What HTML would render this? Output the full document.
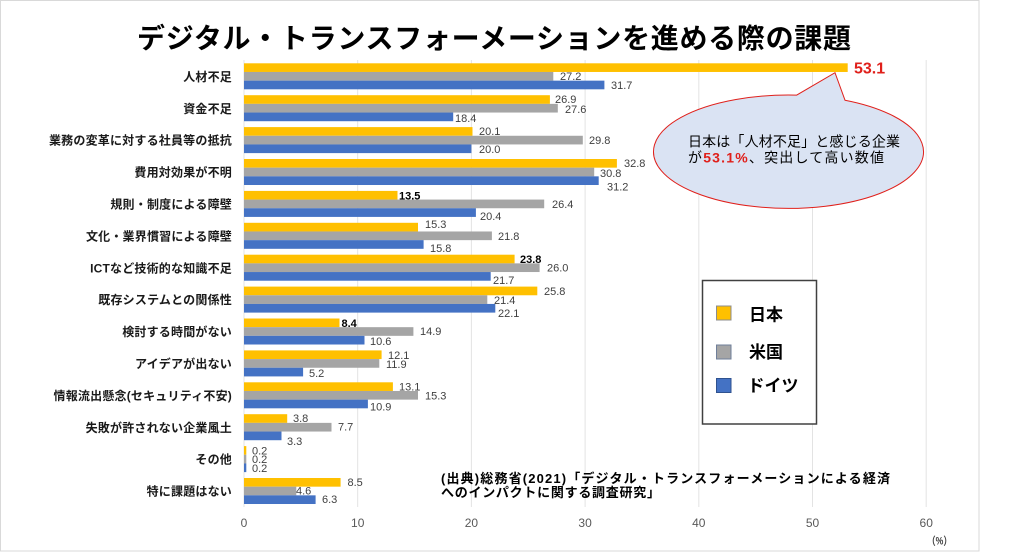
<!DOCTYPE html>
<html><head><meta charset="utf-8">
<style>
html,body{margin:0;padding:0;background:#fff;}
svg{display:block;}
.cat{font-family:"Liberation Sans","Noto Sans CJK JP",sans-serif;font-size:12px;font-weight:bold;fill:#1a1a1a;text-anchor:end;letter-spacing:0.2px;}
.lbl{font-family:"Liberation Sans",sans-serif;font-size:11px;fill:#404040;}
.lb{font-family:"Liberation Sans",sans-serif;font-size:11px;fill:#000;font-weight:bold;}
.tick{font-family:"Liberation Sans",sans-serif;font-size:12px;fill:#595959;text-anchor:middle;}
.jp{font-family:"Liberation Sans","Noto Sans CJK JP",sans-serif;}
</style></head>
<body>
<svg width="1024" height="554" viewBox="0 0 1024 554" xmlns="http://www.w3.org/2000/svg">
<rect x="0" y="0" width="1024" height="554" fill="#fff"/>
<rect x="0.5" y="0.5" width="978.5" height="550.5" fill="#fff" stroke="#d9d9d9" stroke-width="1"/>

<!-- title -->
<text class="jp" x="137" y="48" font-size="28" font-weight="bold" fill="#000" textLength="714" lengthAdjust="spacing">デジタル・トランスフォーメーションを進める際の課題</text>

<!-- gridlines -->
<g stroke="#e3e3e3" stroke-width="1">
<line x1="244" y1="60" x2="244" y2="507"/>
<line x1="357.7" y1="60" x2="357.7" y2="507"/>
<line x1="471.4" y1="60" x2="471.4" y2="507"/>
<line x1="585.1" y1="60" x2="585.1" y2="507"/>
<line x1="698.8" y1="60" x2="698.8" y2="507"/>
<line x1="812.5" y1="60" x2="812.5" y2="507"/>
<line x1="926.2" y1="60" x2="926.2" y2="507"/>
</g>

<text class="lbl" x="560" y="79.9">27.2</text>

<!-- bars -->
<g fill="#FFC000">
<rect x="244" y="63.3" width="603.7" height="8.67"/>
<rect x="244" y="95.2" width="305.9" height="8.67"/>
<rect x="244" y="127.1" width="228.5" height="8.67"/>
<rect x="244" y="159.0" width="372.9" height="8.67"/>
<rect x="244" y="190.9" width="153.5" height="8.67"/>
<rect x="244" y="222.8" width="174.0" height="8.67"/>
<rect x="244" y="254.7" width="270.6" height="8.67"/>
<rect x="244" y="286.6" width="293.3" height="8.67"/>
<rect x="244" y="318.5" width="95.5" height="8.67"/>
<rect x="244" y="350.4" width="137.6" height="8.67"/>
<rect x="244" y="382.3" width="148.9" height="8.67"/>
<rect x="244" y="414.2" width="43.2" height="8.67"/>
<rect x="244" y="446.1" width="2.3" height="8.67"/>
<rect x="244" y="478.0" width="96.6" height="8.67"/>
</g>
<g fill="#A5A5A5">
<rect x="244" y="71.97" width="309.3" height="8.67"/>
<rect x="244" y="103.87" width="313.8" height="8.67"/>
<rect x="244" y="135.77" width="338.8" height="8.67"/>
<rect x="244" y="167.67" width="350.2" height="8.67"/>
<rect x="244" y="199.57" width="300.2" height="8.67"/>
<rect x="244" y="231.47" width="247.9" height="8.67"/>
<rect x="244" y="263.37" width="295.6" height="8.67"/>
<rect x="244" y="295.27" width="243.3" height="8.67"/>
<rect x="244" y="327.17" width="169.4" height="8.67"/>
<rect x="244" y="359.07" width="135.3" height="8.67"/>
<rect x="244" y="390.97" width="174.0" height="8.67"/>
<rect x="244" y="422.87" width="87.5" height="8.67"/>
<rect x="244" y="454.77" width="2.3" height="8.67"/>
<rect x="244" y="486.67" width="52.3" height="8.67"/>
</g>
<g fill="#4472C4">
<rect x="244" y="80.64" width="360.4" height="8.67"/>
<rect x="244" y="112.54" width="209.2" height="8.67"/>
<rect x="244" y="144.44" width="227.4" height="8.67"/>
<rect x="244" y="176.34" width="354.7" height="8.67"/>
<rect x="244" y="208.24" width="231.9" height="8.67"/>
<rect x="244" y="240.14" width="179.6" height="8.67"/>
<rect x="244" y="272.04" width="246.7" height="8.67"/>
<rect x="244" y="303.94" width="251.3" height="8.67"/>
<rect x="244" y="335.84" width="120.5" height="8.67"/>
<rect x="244" y="367.74" width="59.1" height="8.67"/>
<rect x="244" y="399.64" width="123.9" height="8.67"/>
<rect x="244" y="431.54" width="37.5" height="8.67"/>
<rect x="244" y="463.44" width="2.3" height="8.67"/>
<rect x="244" y="495.34" width="71.6" height="8.67"/>
</g>

<!-- data labels -->
<text x="854" y="73.4" font-family="Liberation Sans, sans-serif" font-size="16" font-weight="bold" fill="#e0201b">53.1</text>
<text class="lbl" x="611" y="88.9">31.7</text>
<text class="lbl" x="555" y="103.2">26.9</text>
<text class="lbl" x="565" y="112.9">27.6</text>
<text class="lbl" x="455" y="122.2">18.4</text>
<text class="lbl" x="479" y="134.9">20.1</text>
<text class="lbl" x="589" y="143.9">29.8</text>
<text class="lbl" x="479" y="153.2">20.0</text>
<text class="lbl" x="624" y="167.2">32.8</text>
<text class="lbl" x="600" y="177.2">30.8</text>
<text class="lbl" x="607" y="190.4">31.2</text>
<text class="lb" x="399" y="199.6">13.5</text>
<text class="lbl" x="552" y="207.9">26.4</text>
<text class="lbl" x="480" y="219.9">20.4</text>
<text class="lbl" x="425" y="228.2">15.3</text>
<text class="lbl" x="498" y="239.9">21.8</text>
<text class="lbl" x="430" y="252.2">15.8</text>
<text class="lb" x="520" y="263.2">23.8</text>
<text class="lbl" x="547" y="271.6">26.0</text>
<text class="lbl" x="493" y="283.9">21.7</text>
<text class="lbl" x="544" y="294.9">25.8</text>
<text class="lbl" x="494" y="303.9">21.4</text>
<text class="lbl" x="498" y="317.2">22.1</text>
<text class="lb" x="341.5" y="327.2">8.4</text>
<text class="lbl" x="420" y="334.9">14.9</text>
<text class="lbl" x="370" y="344.9">10.6</text>
<text class="lbl" x="388" y="358.9">12.1</text>
<text class="lbl" x="386" y="367.9">11.9</text>
<text class="lbl" x="309" y="376.9">5.2</text>
<text class="lbl" x="399" y="390.6">13.1</text>
<text class="lbl" x="425" y="399.6">15.3</text>
<text class="lbl" x="370" y="410.6">10.9</text>
<text class="lbl" x="293" y="422.2">3.8</text>
<text class="lbl" x="338" y="430.6">7.7</text>
<text class="lbl" x="287" y="444.9">3.3</text>
<text class="lbl" x="252" y="454.6">0.2</text>
<text class="lbl" x="252" y="462.9">0.2</text>
<text class="lbl" x="252" y="472.2">0.2</text>
<text class="lbl" x="347.5" y="486.2">8.5</text>
<text class="lbl" x="296" y="494.6">4.6</text>
<text class="lbl" x="322" y="503.2">6.3</text>

<!-- category labels -->
<text class="cat" x="232" y="80.9">人材不足</text>
<text class="cat" x="232" y="112.8">資金不足</text>
<text class="cat" x="232" y="144.7">業務の変革に対する社員等の抵抗</text>
<text class="cat" x="232" y="176.6">費用対効果が不明</text>
<text class="cat" x="232" y="208.5">規則・制度による障壁</text>
<text class="cat" x="232" y="240.4">文化・業界慣習による障壁</text>
<text class="cat" x="232" y="272.3">ICTなど技術的な知識不足</text>
<text class="cat" x="232" y="304.2">既存システムとの関係性</text>
<text class="cat" x="232" y="336.1">検討する時間がない</text>
<text class="cat" x="232" y="368.0">アイデアが出ない</text>
<text class="cat" x="232" y="399.9">情報流出懸念(セキュリティ不安)</text>
<text class="cat" x="232" y="431.8">失敗が許されない企業風土</text>
<text class="cat" x="232" y="463.7">その他</text>
<text class="cat" x="232" y="495.6">特に課題はない</text>

<!-- ticks -->
<text class="tick" x="244" y="527">0</text>
<text class="tick" x="357.7" y="527">10</text>
<text class="tick" x="471.4" y="527">20</text>
<text class="tick" x="585.1" y="527">30</text>
<text class="tick" x="698.8" y="527">40</text>
<text class="tick" x="812.5" y="527">50</text>
<text class="tick" x="926.2" y="527">60</text>
<text class="jp" x="927" y="544.5" font-size="11" font-weight="bold" fill="#404040" textLength="25" lengthAdjust="spacingAndGlyphs">（%）</text>

<!-- callout -->
<path d="M 845 100.2 A 135 56.7 0 1 1 796.7 95.1 L 835 72.7 Z" fill="#dae3f3" stroke="#e0201b" stroke-width="1"/>
<text class="jp" x="688" y="146.3" font-size="14" fill="#000" textLength="212" lengthAdjust="spacing">日本は「人材不足」と感じる企業</text>
<text class="jp" x="688" y="162.3" font-size="14" fill="#000" textLength="196" lengthAdjust="spacing">が<tspan fill="#e0201b" font-weight="bold">53.1%</tspan>、突出して高い数値</text>

<!-- legend -->
<rect x="702.5" y="280.5" width="114" height="143.5" fill="#fff" stroke="#404040" stroke-width="1.5"/>
<rect x="716.5" y="306" width="14.5" height="14" fill="#FFC000" stroke="#8c8c8c" stroke-width="1"/>
<rect x="716.5" y="345" width="14.5" height="14" fill="#A5A5A5" stroke="#6f7f9a" stroke-width="1"/>
<rect x="716.5" y="378.5" width="14.5" height="14" fill="#4472C4" stroke="#2f528f" stroke-width="1"/>
<text class="jp" x="749" y="320.5" font-size="17" font-weight="bold" fill="#000">日本</text>
<text class="jp" x="749" y="358.2" font-size="17" font-weight="bold" fill="#000">米国</text>
<text class="jp" x="747.5" y="391.5" font-size="17" font-weight="bold" fill="#000">ドイツ</text>

<!-- source -->
<text class="jp" x="441" y="483.2" font-size="13" font-weight="bold" fill="#000" textLength="449" lengthAdjust="spacing">(出典)総務省(2021)「デジタル・トランスフォーメーションによる経済</text>
<text class="jp" x="441" y="497" font-size="13" font-weight="bold" fill="#000" textLength="219" lengthAdjust="spacing">へのインパクトに関する調査研究」</text>
</svg>
</body></html>
